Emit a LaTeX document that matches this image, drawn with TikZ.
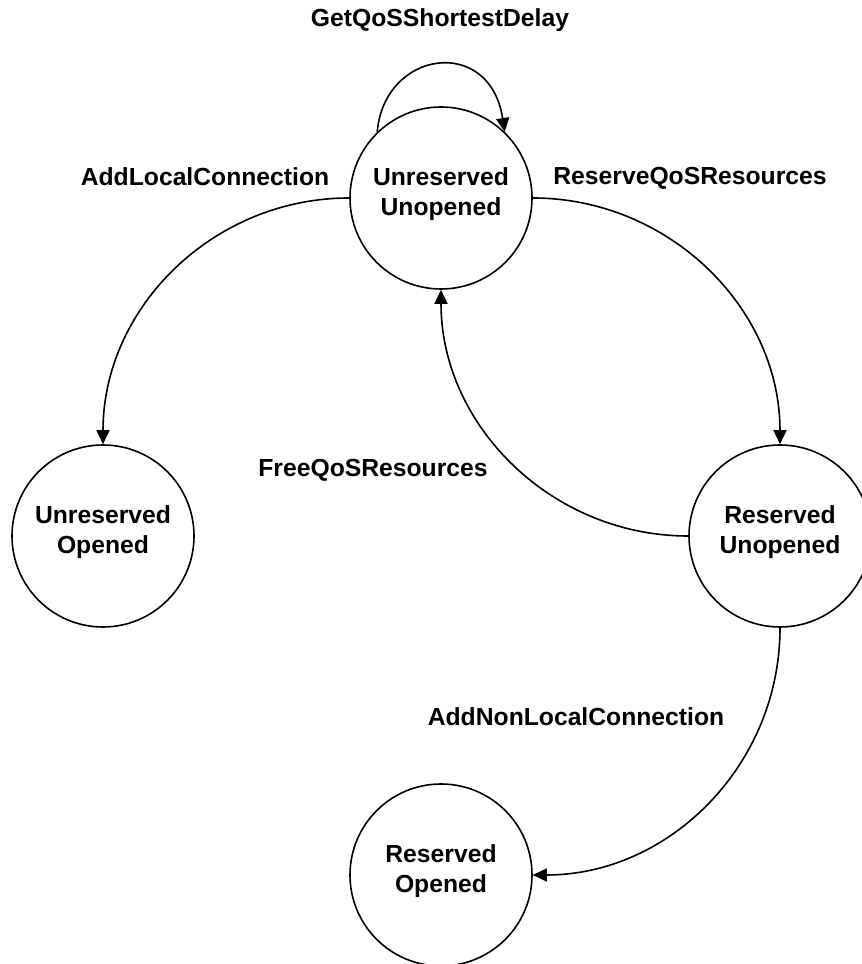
\documentclass[tikz,border=0pt]{standalone}
\usepackage{fontspec}
\setmainfont{Liberation Sans}
\usetikzlibrary{arrows.meta}

\begin{document}
\begin{tikzpicture}[
  x=1pt, y=1pt,
  state/.style={
    circle, draw, line width=1.6pt, minimum size=182pt, inner sep=0pt,
    font=\fontsize{24.7}{30}\selectfont\bfseries, align=center,
    text depth=12pt
  },
  trans/.style={
    font=\fontsize{24.7}{30}\selectfont\bfseries, anchor=base, inner sep=0pt
  },
  arrow/.style={-{Triangle[length=14pt, width=13pt]}, line width=1.6pt},
]
\useasboundingbox (0,0) rectangle (862,964);

% --- States ---
\node[state] (uu) at (441,766) {Unreserved\\Unopened};
\node[state] (uo) at (103,428) {Unreserved\\Opened};
\node[state] (ru) at (780,428) {Reserved\\Unopened};
\node[state] (ro) at (441,89)  {Reserved\\Opened};

% --- Transition labels ---
\node[trans] (lblDelay)    at (440,937) {GetQoSShortestDelay};
\node[trans] (lblLocal)    at (205,778) {AddLocalConnection};
\node[trans] (lblReserve)  at (690,779) {ReserveQoSResources};
\node[trans] (lblFree)     at (373,487) {FreeQoSResources};
\node[trans] (lblNonLocal) at (576,238) {AddNonLocalConnection};

% --- Transitions ---
\draw[arrow] (uu.134) .. controls +(7,82) and +(-15,97) .. (uu.46);
\draw[arrow] (uu.west) to[out=180, in=90] (uo.north);
\draw[arrow] (uu.east) to[out=0, in=90] (ru.north);
\draw[arrow] (ru.west) to[out=180, in=-90] (uu.south);
\draw[arrow] (ru.south) to[out=-90, in=0] (ro.east);

\end{tikzpicture}
\end{document}
